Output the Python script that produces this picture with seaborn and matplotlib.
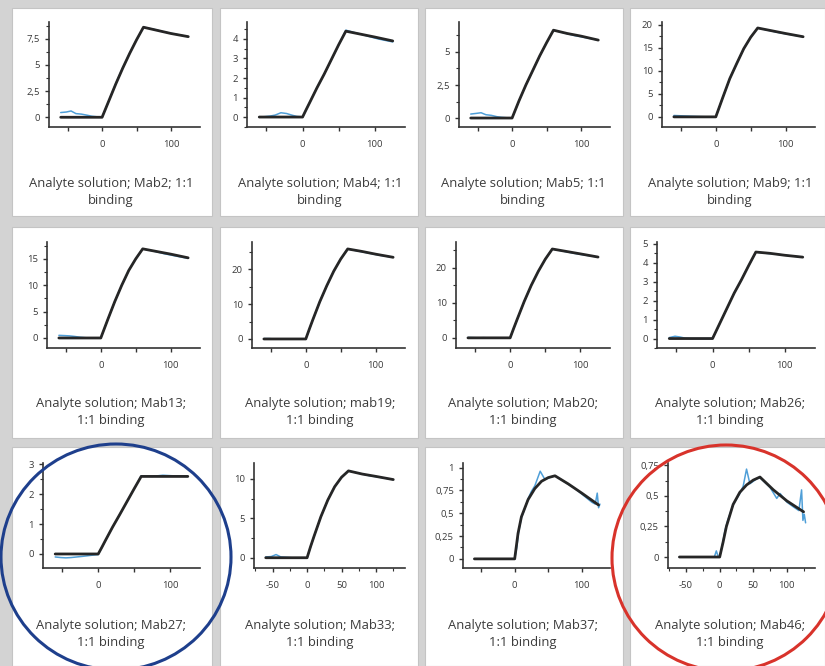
import matplotlib
matplotlib.use("Agg")
import matplotlib.pyplot as plt
from matplotlib.patches import Ellipse, Rectangle
import seaborn as sns
import pandas as pd

# ---------------- data ----------------
titles = [
    "Analyte solution; Mab2; 1:1\nbinding",
    "Analyte solution; Mab4; 1:1\nbinding",
    "Analyte solution; Mab5; 1:1\nbinding",
    "Analyte solution; Mab9; 1:1\nbinding",
    "Analyte solution; Mab13;\n1:1 binding",
    "Analyte solution; mab19;\n1:1 binding",
    "Analyte solution; Mab20;\n1:1 binding",
    "Analyte solution; Mab26;\n1:1 binding",
    "Analyte solution; Mab27;\n1:1 binding",
    "Analyte solution; Mab33;\n1:1 binding",
    "Analyte solution; Mab37;\n1:1 binding",
    "Analyte solution; Mab46;\n1:1 binding",
]

# fitted 1:1 model (time in s)
fit_t = [-60, 0, 5, 10, 20, 30, 40, 50, 60, 80, 100, 125]
fit_mab2 = [0, 0, 0.8, 1.6, 3.2, 4.7, 6.1, 7.4, 8.6, 8.3, 8.0, 7.7]
fit_mab4 = [0, 0, 0.38, 0.75, 1.5, 2.2, 2.95, 3.7, 4.4, 4.25, 4.1, 3.9]
fit_mab5 = [0, 0, 0.65, 1.3, 2.5, 3.6, 4.7, 5.7, 6.65, 6.4, 6.2, 5.9]
fit_mab9 = [0, 0, 2.1, 4.2, 8.3, 11.6, 14.8, 17.3, 19.3, 18.7, 18.1, 17.4]
fit_mab13 = [0, 0, 1.75, 3.5, 6.9, 10.0, 12.8, 15.0, 16.9, 16.4, 15.9, 15.2]
fit_mab19 = [0, 0, 2.8, 5.5, 10.7, 15.3, 19.5, 23.0, 25.9, 25.2, 24.4, 23.5]
fit_mab20 = [0, 0, 2.7, 5.3, 10.4, 15.0, 19.0, 22.5, 25.4, 24.7, 24.0, 23.1]
fit_mab26 = [0, 0, 0.4, 0.8, 1.6, 2.4, 3.1, 3.85, 4.57, 4.5, 4.4, 4.3]
fit_mab27 = [0, 0, 0.22, 0.45, 0.9, 1.32, 1.75, 2.18, 2.6, 2.6, 2.6, 2.6]
fit_mab33 = [0, 0, 1.4, 2.7, 5.2, 7.3, 9.0, 10.2, 11.0, 10.6, 10.3, 9.9]
fit_mab37 = [0, 0, 0.28, 0.46, 0.65, 0.77, 0.85, 0.89, 0.91, 0.82, 0.72, 0.59]
fit_mab46 = [0, 0, 0.12, 0.25, 0.43, 0.53, 0.59, 0.63, 0.655, 0.55, 0.46, 0.37]

# measured sensorgrams
raw_t = [-60, -52, -45, -38, -30, -22, -15, -8, 0, 10, 20, 30, 40, 50, 60, 75, 90, 105, 125]
raw_mab2 = [0.45, 0.5, 0.6, 0.35, 0.3, 0.2, 0.1, 0.05, 0.0, 1.6, 3.25, 4.75, 6.1, 7.4, 8.6, 8.4, 8.15, 7.95, 7.7]
raw_mab4 = [0.0, 0.02, 0.05, 0.1, 0.22, 0.18, 0.1, 0.03, 0.0, 0.75, 1.5, 2.2, 2.95, 3.7, 4.45, 4.3, 4.15, 4.0, 3.85]
raw_mab5 = [0.3, 0.35, 0.4, 0.25, 0.2, 0.1, 0.05, 0.02, 0.0, 1.3, 2.5, 3.6, 4.7, 5.7, 6.65, 6.45, 6.25, 6.1, 5.9]
raw_mab9 = [0.3, 0.25, 0.2, 0.15, 0.1, 0.05, 0.02, 0.0, 0.0, 4.2, 8.3, 11.6, 14.8, 17.3, 19.3, 18.8, 18.3, 17.9, 17.4]
raw_mab13 = [0.5, 0.45, 0.4, 0.3, 0.15, 0.05, 0.0, 0.0, 0.0, 3.5, 6.9, 10.0, 12.8, 15.0, 16.9, 16.5, 16.0, 15.6, 15.1]
raw_mab19 = [0.1, 0.1, 0.0, 0.05, 0.0, 0.0, 0.0, 0.0, 0.0, 5.5, 10.7, 15.3, 19.5, 23.0, 25.9, 25.3, 24.7, 24.1, 23.5]
raw_mab20 = [0.1, 0.05, 0.0, 0.05, 0.0, 0.0, 0.0, 0.0, 0.0, 5.3, 10.4, 15.0, 19.0, 22.5, 25.4, 24.8, 24.2, 23.7, 23.1]
raw_mab26 = [0.05, 0.12, 0.08, 0.02, 0.0, 0.0, 0.0, 0.0, 0.0, 0.8, 1.6, 2.4, 3.1, 3.85, 4.57, 4.5, 4.45, 4.38, 4.3]
raw_mab27 = [-0.1, -0.12, -0.13, -0.12, -0.1, -0.08, -0.06, -0.04, -0.02, 0.45, 0.9, 1.32, 1.75, 2.18, 2.62, 2.6, 2.64, 2.62, 2.6]
raw_mab33 = [0.1, 0.15, 0.4, 0.1, 0.05, 0.0, 0.0, 0.0, 0.0, 2.7, 5.2, 7.3, 9.0, 10.2, 11.0, 10.7, 10.4, 10.2, 9.9]
raw_t_mab37 = [-60, -30, 0, 3, 6, 10, 15, 20, 25, 30, 35, 38, 45, 55, 60, 75, 90, 105, 115, 120, 123, 125, 127]
raw_mab37 = [0, 0, 0, 0.12, 0.3, 0.45, 0.55, 0.66, 0.74, 0.8, 0.9, 0.96, 0.87, 0.9, 0.91, 0.84, 0.77, 0.68, 0.62, 0.6, 0.72, 0.56, 0.6]
raw_t_mab46 = [-60, -30, -8, -5, -2, 0, 4, 8, 12, 20, 30, 35, 40, 45, 55, 60, 75, 85, 90, 100, 110, 118, 122, 124, 126, 128]
raw_mab46 = [0, 0, 0, 0.05, 0.0, 0.0, 0.1, 0.22, 0.3, 0.43, 0.52, 0.58, 0.72, 0.6, 0.64, 0.65, 0.57, 0.48, 0.52, 0.45, 0.41, 0.38, 0.55, 0.3, 0.35, 0.28]

fits = [fit_mab2, fit_mab4, fit_mab5, fit_mab9, fit_mab13, fit_mab19,
        fit_mab20, fit_mab26, fit_mab27, fit_mab33, fit_mab37, fit_mab46]
raws = [raw_mab2, raw_mab4, raw_mab5, raw_mab9, raw_mab13, raw_mab19,
        raw_mab20, raw_mab26, raw_mab27, raw_mab33, raw_mab37, raw_mab46]
raw_ts = [raw_t] * 10 + [raw_t_mab37, raw_t_mab46]

# y tick values (major) per panel
yticks = [
    [0, 2.5, 5, 7.5], [0, 1, 2, 3, 4], [0, 2.5, 5], [0, 5, 10, 15, 20],
    [0, 5, 10, 15], [0, 10, 20], [0, 10, 20], [0, 1, 2, 3, 4, 5],
    [0, 1, 2, 3], [0, 5, 10], [0, 0.25, 0.5, 0.75, 1], [0, 0.25, 0.5, 0.75],
]
xtick_full = [-50, 0, 50, 100]
xtick_short_labels = ["", "0", "", "100"]

# ---------------- layout ----------------
W, H = 825, 666
ylims = [(-0.93, 9.1), (-0.51, 4.87), (-0.68, 7.27), (-2.2, 20.6),
         (-1.9, 18.2), (-2.6, 27.9), (-2.9, 27.4), (-0.5, 5.1),
         (-0.47, 3.05), (-1.3, 12.0), (-0.1, 1.05), (-0.09, 0.77)]
ax_left = [[49, 247, 459, 662], [47, 252, 456, 657], [43, 254, 463, 668]]
ax_right = [200, 405, 610, 815]
ax_tb = [(22, 127), (242, 348), (463, 568)]
panel_x = [(12, 212), (220, 418), (425, 623), (630, 825)]
panel_y = [(8, 216), (227, 438), (447, 666)]
title_cx = [111, 320, 523, 730]
title_cy = [192, 412, 634]

sns.set_theme(style="ticks")
plt.rcParams["font.family"] = ["Open Sans", "DejaVu Sans"]

fig = plt.figure(figsize=(W / 100, H / 100), dpi=100)
fig.patch.set_facecolor("#d3d3d3")

bg = fig.add_axes([0, 0, 1, 1], zorder=0)
bg.set_xlim(0, W)
bg.set_ylim(H, 0)
bg.axis("off")
for (py0, py1) in panel_y:
    for (px0, px1) in panel_x:
        bg.add_patch(Rectangle((px0, py0), px1 - px0, py1 - py0,
                               facecolor="white", edgecolor="#c4c4c4", lw=0.8))


def fmt(v):
    s = ("%g" % v)
    return s.replace(".", ",")


for i in range(12):
    r, c = divmod(i, 4)
    L = ax_left[r][c]
    R = ax_right[c]
    T, B = ax_tb[r]
    ax = fig.add_axes([L / W, 1 - B / H, (R - L) / W, (B - T) / H], zorder=2)
    ax.set_facecolor("none")
    df_raw = pd.DataFrame({"t": raw_ts[i], "y": raws[i]})
    df_fit = pd.DataFrame({"t": fit_t, "y": fits[i]})
    sns.lineplot(data=df_raw, x="t", y="y", ax=ax, color="#4f9fd8", lw=1.1,
                 estimator=None, sort=False)
    sns.lineplot(data=df_fit, x="t", y="y", ax=ax, color="#262626", lw=2.0,
                 estimator=None, sort=False)
    ax.set_xlim(-77, 142)
    ax.set_ylim(*ylims[i])
    ax.set_xlabel("")
    ax.set_ylabel("")
    yt = yticks[i]
    ax.set_yticks(yt, [fmt(v) for v in yt])
    step = yt[1] - yt[0]
    minors = []
    v = yt[0] - step / 2
    while v <= ylims[i][1]:
        if v >= ylims[i][0]:
            minors.append(v)
        v += step
    ax.set_yticks(minors, minor=True)
    if i in (9, 11):
        ax.set_xticks(xtick_full, [fmt(v) for v in xtick_full])
        ax.set_xticks([-75, -25, 25, 75, 125], minor=True)
    else:
        ax.set_xticks(xtick_full, xtick_short_labels)
    for side in ("top", "right"):
        ax.spines[side].set_visible(False)
    for side in ("left", "bottom"):
        ax.spines[side].set_linewidth(1.2)
        ax.spines[side].set_color("#333333")
    ax.tick_params(which="major", length=3, width=1, color="#333333",
                   labelsize=6.8, labelcolor="#3a3a3a", pad=3.5)
    ax.tick_params(which="minor", length=2, width=0.8, color="#333333")
    ax.tick_params(axis="x", which="major", pad=6.5)
    fig.text(title_cx[c] / W, 1 - title_cy[r] / H, titles[i], ha="center",
             va="center", fontsize=9.4, color="#3c3c3c", linespacing=1.45)

ov = fig.add_axes([0, 0, 1, 1], zorder=5)
ov.set_xlim(0, W)
ov.set_ylim(H, 0)
ov.axis("off")
ov.patch.set_alpha(0)
ov.add_patch(Ellipse((116, 557), 230, 226, facecolor="none",
                     edgecolor="#1e3f8c", lw=2.2))
ov.add_patch(Ellipse((726, 558), 228, 226, facecolor="none",
                     edgecolor="#d8332b", lw=2.2))

fig.savefig("out.png", dpi=100, facecolor=fig.get_facecolor())
